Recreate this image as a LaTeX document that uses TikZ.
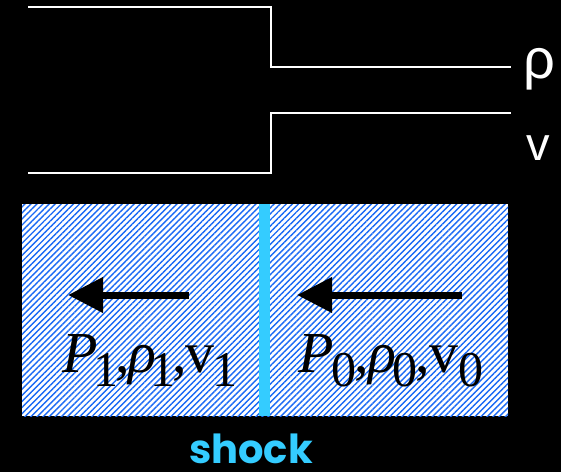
\documentclass[tikz,border=0pt]{standalone}
\usepackage{fontspec}
\setmainfont{Liberation Serif}
\newfontfamily\labelsans{Liberation Sans}
\newfontfamily\shockfont{Poppins}
\usetikzlibrary{arrows.meta,patterns.meta}
\definecolor{hatchblue}{RGB}{25,105,245}
\definecolor{shockcyan}{RGB}{52,204,255}
% state label: symbol with lowered, nearly full-size subscript
\newcommand{\stsub}[1]{\raisebox{-14pt}{\fontsize{50}{50}\selectfont #1}}
\begin{document}
\begin{tikzpicture}[x=1pt,y=-1pt,
  profile/.style={draw=white,line width=2pt},
  flowarrow/.style={draw=black,line width=7pt,-{Triangle[length=35pt,width=34pt]}},
  statelabel/.style={anchor=base west,inner sep=0pt,font=\fontsize{58}{58}\selectfont},
  symlabel/.style={text=white,inner sep=0pt,font=\labelsans}]
\fill[black] (0,0) rectangle (561,472);
\useasboundingbox (0,0) rectangle (561,472);

% density and velocity profiles across the shock
\coordinate (r0) at (28,7);   \coordinate (r1) at (271,7);
\coordinate (r2) at (271,67); \coordinate (r3) at (511,67);
\coordinate (v0) at (28,173); \coordinate (v1) at (271,173);
\coordinate (v2) at (271,113);\coordinate (v3) at (511,113);
\draw[profile] (r0) -- (r1) -- (r2) -- (r3);
\draw[profile] (v0) -- (v1) -- (v2) -- (v3);
\node[symlabel,anchor=base,font=\labelsans\fontsize{56}{56}\selectfont] (rho) at (539,78) {ρ};
\node[symlabel,anchor=base,font=\labelsans\fontsize{47}{47}\selectfont] (vel) at (538,160) {v};

% hatched gas region
\fill[white] (22,204) rectangle (508,416);
\fill[pattern={Lines[angle=45,distance=4.3pt,line width=1.4pt]},pattern color=hatchblue]
  (22,204) rectangle (508,416);

% shock front
\fill[shockcyan] (259,204) rectangle (270,416);
\node[text=shockcyan,anchor=base,inner sep=0pt,font=\shockfont\fontsize{40}{40}\selectfont\bfseries] (shock) at (251,463) {shock};

% flow arrows
\coordinate (a1s) at (189,295); \coordinate (a1e) at (68,295);
\coordinate (a2s) at (462,295); \coordinate (a2e) at (297,295);
\draw[flowarrow] (a1s) -- (a1e);
\draw[flowarrow] (a2s) -- (a2e);

% post- and pre-shock states
\node[statelabel] (post) at (62,372)
  {\textit{P}\kern-4pt\stsub{1}\kern-3pt,\kern-2pt\textit{ρ}\kern-5pt\stsub{1}\kern-3pt,\kern-2pt v\kern-2pt\stsub{1}};
\node[statelabel] (pre) at (298,372)
  {\textit{P}\kern-2pt\stsub{0}\kern-2pt,\kern-1pt\textit{ρ}\kern-3pt\stsub{0}\kern-2pt,\kern-1pt v\stsub{0}};
\end{tikzpicture}
\end{document}
